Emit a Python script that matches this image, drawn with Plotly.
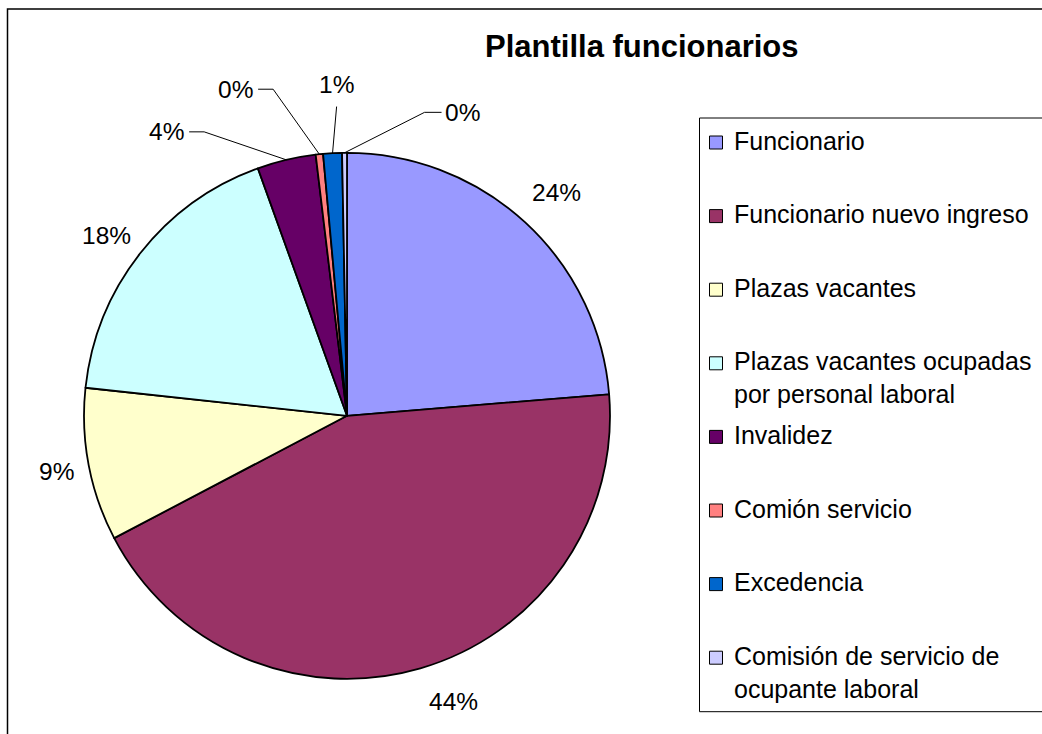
import math
import plotly.graph_objects as go

# ---------------- data ----------------
categories = [
    "Funcionario",
    "Funcionario nuevo ingreso",
    "Plazas vacantes",
    "Plazas vacantes ocupadas por personal laboral",
    "Invalidez",
    "Comión servicio",
    "Excedencia",
    "Comisión de servicio de ocupante laboral",
]
legend_labels = [
    "Funcionario",
    "Funcionario nuevo ingreso",
    "Plazas vacantes",
    "Plazas vacantes ocupadas<br>por personal laboral",
    "Invalidez",
    "Comión servicio",
    "Excedencia",
    "Comisión de servicio de<br>ocupante laboral",
]
values = [23.7, 43.6, 9.4, 17.8, 3.6, 0.45, 1.15, 0.3]
title_text = "Plantilla funcionarios"

# ---------------- style ----------------
colors = ["#9999FF", "#993366", "#FFFFCC", "#CCFFFF",
          "#660066", "#FF8080", "#0066CC", "#CCCCFF"]
W, H = 1042, 734
FONT = "Liberation Sans, Arial, sans-serif"
CX, CY, R = 347.0, 415.8, 263.0          # pie centre / radius in pixels
LABEL_SHIFT = [0.5, -4.2, 0.0, -1.2, -19.1, -12.8, 1.35, 21.3]   # deg from slice middle
LABEL_RADIUS = [1.165, 1.157, 1.124, 1.143, 1.279, 1.312, 1.259, 1.234]
LEADER = [None, None, None, None, "right", "right", "below", "left"]
LABEL_SIZE = 24.5
LEGEND_SIZE = 25
TITLE_SIZE = 31
LEG_X0, LEG_Y0, LEG_Y1 = 699.5, 118.0, 711.7
LEG_FIRST, LEG_STEP = 142.5, 73.6


def px(x):
    return x / W


def py(y):
    return 1 - y / H


def polar(angle_deg, r):
    a = math.radians(angle_deg)
    return CX + r * math.sin(a), CY - r * math.cos(a)


fig = go.Figure()
fig.add_trace(go.Pie(
    labels=categories,
    values=values,
    sort=False,
    direction="clockwise",
    rotation=0,
    marker=dict(colors=colors, line=dict(color="#000000", width=1.8)),
    textinfo="none",
    showlegend=False,
    domain=dict(x=[px(CX - R), px(CX + R)], y=[py(CY + R), py(CY - R)]),
))

annotations = []
shapes = []

# percentage labels + leader lines
total = sum(values)
cum = 0.0
for i, v in enumerate(values):
    a0 = cum / total * 360
    cum += v
    a1 = cum / total * 360
    mid = (a0 + a1) / 2
    lx, ly = polar(mid + LABEL_SHIFT[i], R * LABEL_RADIUS[i])
    txt = f"{round(v / total * 100)}%"
    annotations.append(dict(
        x=px(lx), y=py(ly), xref="paper", yref="paper",
        text=txt, showarrow=False, xanchor="center", yanchor="middle",
        font=dict(family=FONT, size=LABEL_SIZE, color="#000000"),
    ))
    kind = LEADER[i]
    if kind:
        ex, ey = polar(mid, R)
        halfw = 17.5
        if kind == "right":
            pts = [(lx + halfw + 5, ly), (lx + halfw + 20, ly), (ex, ey)]
        elif kind == "left":
            pts = [(lx - halfw - 3, ly), (lx - halfw - 20, ly), (ex, ey)]
        else:
            pts = [(lx, ly + 21.7), (ex, ey)]
        path = "M " + " L ".join(f"{px(a):.5f},{py(b):.5f}" for a, b in pts)
        shapes.append(dict(type="path", path=path, xref="paper", yref="paper",
                           line=dict(color="#000000", width=1)))

# title
annotations.append(dict(
    x=px(641.7), y=py(46), xref="paper", yref="paper",
    text=f"<b>{title_text}</b>", showarrow=False,
    xanchor="center", yanchor="middle",
    font=dict(family=FONT, size=TITLE_SIZE, color="#000000"),
))

# legend (box, swatches, texts)
shapes.append(dict(type="rect", xref="paper", yref="paper",
                   x0=px(LEG_X0), x1=px(W + 20), y0=py(LEG_Y1), y1=py(LEG_Y0),
                   line=dict(color="#000000", width=1), fillcolor="rgba(0,0,0,0)"))
for i, lab in enumerate(legend_labels):
    yc = LEG_FIRST + LEG_STEP * i
    shapes.append(dict(type="rect", xref="paper", yref="paper",
                       x0=px(709.5), x1=px(722.5), y0=py(yc + 6.5), y1=py(yc - 6.5),
                       line=dict(color="#000000", width=1), fillcolor=colors[i]))
    annotations.append(dict(
        x=px(732), y=py(yc - 18), xref="paper", yref="paper",
        text=lab, showarrow=False, xanchor="left", yanchor="top", align="left",
        font=dict(family=FONT, size=LEGEND_SIZE, color="#000000"),
    ))

# outer chart border
shapes.append(dict(type="rect", xref="paper", yref="paper",
                   x0=px(7.5), x1=px(W + 20), y0=py(H + 20), y1=py(9),
                   line=dict(color="#000000", width=1.5), fillcolor="rgba(0,0,0,0)"))

fig.update_layout(
    width=W, height=H,
    margin=dict(l=0, r=0, t=0, b=0),
    paper_bgcolor="#FFFFFF",
    plot_bgcolor="#FFFFFF",
    annotations=annotations,
    shapes=shapes,
    showlegend=False,
)

fig.write_html(
    "out.html",
    config={"displayModeBar": False},
    post_script="document.body.style.margin='0';document.body.style.overflow='hidden';",
)
